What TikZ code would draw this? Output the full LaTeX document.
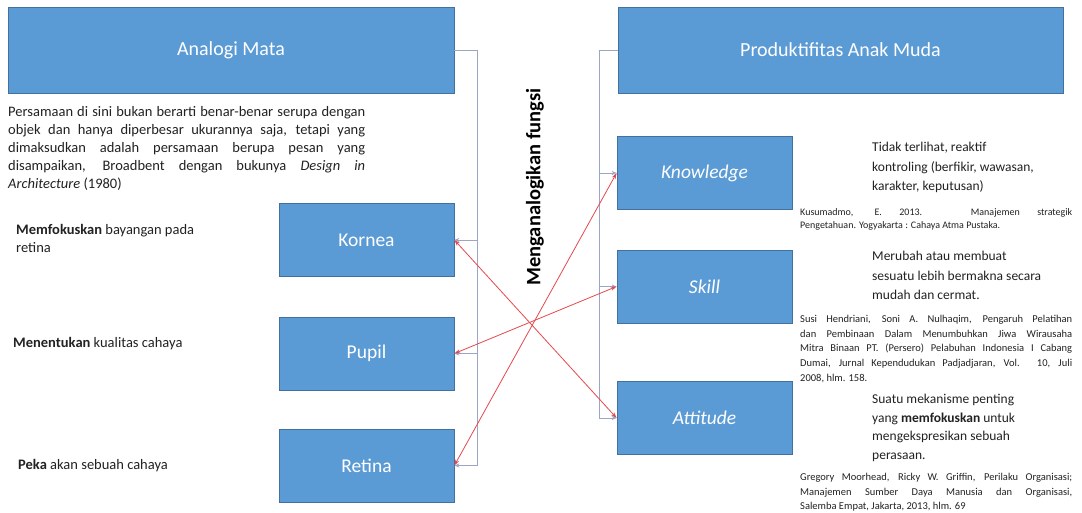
\documentclass[tikz,border=0pt]{standalone}
\usepackage{fontspec}
\setmainfont{Carlito}
\usetikzlibrary{arrows.meta}
\definecolor{boxfill}{HTML}{5B9BD5}
\definecolor{boxline}{HTML}{41719C}
\definecolor{linkgray}{HTML}{9AA6C8}
\definecolor{linkred}{HTML}{E5484D}
\definecolor{bodytext}{HTML}{222222}
\tikzset{
  blockbox/.style={draw=boxline, line width=0.8pt, fill=boxfill, text=white, inner sep=0pt},
  headbox/.style={blockbox, minimum width=446pt, minimum height=86pt, font=\fontsize{20}{24}\selectfont},
  itembox/.style={blockbox, minimum width=175pt, minimum height=73pt, font=\fontsize{19.5}{23}\selectfont},
  aspectbox/.style={itembox, font=\fontsize{19.5}{23}\selectfont\itshape},
  bracketline/.style={draw=linkgray, line width=0.7pt},
  bracketarrow/.style={bracketline, -{Stealth[length=5pt,width=4pt]}},
  crossline/.style={draw=linkred, line width=0.8pt, {Stealth[length=6pt,width=4pt]}-{Stealth[length=6pt,width=4pt]}},
  note/.style={anchor=north west, inner sep=0pt, text=bodytext, align=left, font=\fontsize{14.5}{18}\selectfont},
  bignote/.style={anchor=north west, inner sep=0pt, text=bodytext, align=left, font=\fontsize{13.5}{19.5}\selectfont},
  refnote/.style={anchor=north west, inner sep=0pt, text=bodytext, text width=272pt, align=justify, font=\fontsize{10.5}{14.7}\selectfont}
}
\hyphenpenalty=10000
\exhyphenpenalty=10000
\begin{document}
\begin{tikzpicture}[x=1pt, y=-1pt]
\useasboundingbox[fill=white] (0,0) rectangle (1082,513);

% header boxes
\node[headbox] (analogi) at (231,50) {Analogi Mata};
\node[headbox, minimum width=445pt] (produk) at (840.5,50) {Produktifitas Anak Muda};

% eye parts
\node[itembox] (kornea) at (366.5,240) {Kornea};
\node[itembox] (pupil) at (366.5,353.5) {Pupil};
\node[itembox] (retina) at (366.5,465.5) {Retina};

% productivity aspects
\node[aspectbox] (knowledge) at (704.5,173) {Knowledge};
\node[aspectbox] (skill) at (704.5,286.5) {Skill};
\node[aspectbox] (attitude) at (704.5,418) {Attitude};

% left bracket
\coordinate (ltop) at (477,50);
\draw[bracketline] (analogi.east) -- (ltop);
\draw[bracketarrow] (ltop) |- (retina.east);
\draw[bracketarrow] (ltop |- kornea.east) -- (kornea.east);
\draw[bracketarrow] (ltop |- pupil.east) -- (pupil.east);

% right bracket
\coordinate (rtop) at (599,50);
\draw[bracketline] (produk.west) -- (rtop);
\draw[bracketarrow] (rtop) |- (attitude.west);
\draw[bracketarrow] (rtop |- knowledge.west) -- (knowledge.west);
\draw[bracketarrow] (rtop |- skill.west) -- (skill.west);

% crossing links
\draw[crossline] (kornea.east) -- (attitude.west);
\draw[crossline] (pupil.east) -- (skill.west);
\draw[crossline] (retina.east) -- (knowledge.west);

% vertical label
\node[rotate=90, font=\fontsize{20.5}{24}\selectfont\bfseries, text=black] (fungsi) at (535,187) {Menganalogikan fungsi};

% left notes
\node[note, text width=357pt, align=justify] (persamaan) at (8,106)
  {Persamaan di sini bukan berarti benar-benar serupa dengan\linebreak
   objek dan hanya diperbesar ukurannya saja, tetapi yang\linebreak
   dimaksudkan adalah persamaan berupa pesan yang\linebreak
   disampaikan, Broadbent dengan bukunya \textit{Design in}\linebreak
   \textit{Architecture} (1980)};
\node[note] (kornea-note) at (16,224) {\textbf{Memfokuskan} bayangan pada\\retina};
\node[note] (pupil-note) at (13,337) {\textbf{Menentukan} kualitas cahaya};
\node[note] (retina-note) at (18,459) {\textbf{Peka} akan sebuah cahaya};

% right notes
\node[bignote] (knowledge-note) at (872,142) {Tidak terlihat, reaktif\\kontroling (berfikir, wawasan,\\karakter, keputusan)};
\node[refnote, font=\fontsize{10}{13.5}\selectfont] (knowledge-ref) at (800,208)
  {Kusumadmo, E. 2013. Manajemen strategik\linebreak Pengetahuan. Yogyakarta : Cahaya Atma Pustaka.};
\node[bignote] (skill-note) at (872,251) {Merubah atau membuat\\sesuatu lebih bermakna secara\\mudah dan cermat.};
\node[refnote] (skill-ref) at (800,315)
  {Susi Hendriani, Soni A. Nulhaqim, Pengaruh Pelatihan\linebreak
   dan Pembinaan Dalam Menumbuhkan Jiwa Wirausaha\linebreak
   Mitra Binaan PT. (Persero) Pelabuhan Indonesia I Cabang\linebreak
   Dumai, Jurnal Kependudukan Padjadjaran, Vol. 10, Juli\linebreak
   2008, hlm. 158.};
\node[bignote, font=\fontsize{13.5}{18.5}\selectfont] (attitude-note) at (872,394) {Suatu mekanisme penting\\yang \textbf{memfokuskan} untuk\\mengekspresikan sebuah\\perasaan.};
\node[refnote] (attitude-ref) at (800,473)
  {Gregory Moorhead, Ricky W. Griffin, Perilaku Organisasi;\linebreak
   Manajemen Sumber Daya Manusia dan Organisasi,\linebreak
   Salemba Empat, Jakarta, 2013, hlm. 69};
\end{tikzpicture}
\end{document}
